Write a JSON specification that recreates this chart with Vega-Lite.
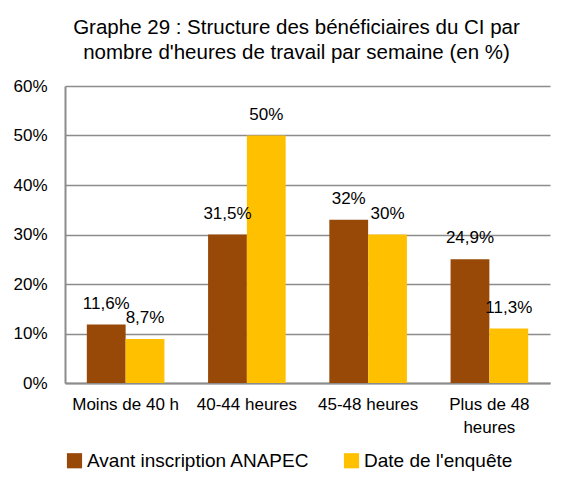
{
  "$schema": "https://vega.github.io/schema/vega-lite/v6.json",
  "width": 485,
  "height": 297,
  "autosize": {"type": "none"},
  "padding": {"left": 65, "top": 86, "right": 24, "bottom": 102},
  "background": "white",
  "config": {
    "font": "Liberation Sans",
    "view": {"stroke": null}
  },
  "title": {
    "text": ["Graphe 29 : Structure des bénéficiaires du CI par", "nombre d'heures de travail par semaine (en %)"],
    "font": "Liberation Sans",
    "fontSize": 20.5,
    "fontWeight": "normal",
    "color": "#000000",
    "anchor": "middle",
    "dx": -11,
    "lineHeight": 25,
    "offset": 14
  },
  "data": {
    "values": [
      {"cat": "Moins de 40 h", "serie": "Avant inscription ANAPEC", "value": 11.8, "label": "11,6%"},
      {"cat": "Moins de 40 h", "serie": "Date de l'enquête", "value": 8.9, "label": "8,7%"},
      {"cat": "40-44 heures", "serie": "Avant inscription ANAPEC", "value": 30, "label": "31,5%"},
      {"cat": "40-44 heures", "serie": "Date de l'enquête", "value": 50, "label": "50%"},
      {"cat": "45-48 heures", "serie": "Avant inscription ANAPEC", "value": 33, "label": "32%"},
      {"cat": "45-48 heures", "serie": "Date de l'enquête", "value": 30, "label": "30%"},
      {"cat": "Plus de 48 heures", "serie": "Avant inscription ANAPEC", "value": 25, "label": "24,9%"},
      {"cat": "Plus de 48 heures", "serie": "Date de l'enquête", "value": 11, "label": "11,3%"}
    ]
  },
  "encoding": {
    "x": {
      "field": "cat",
      "type": "nominal",
      "sort": null,
      "scale": {"paddingInner": 0.36, "paddingOuter": 0.18},
      "axis": {
        "title": null,
        "labelAngle": 0,
        "labelFontSize": 17,
        "labelColor": "#000000",
        "labelPadding": 13,
        "labelLineHeight": 23,
        "ticks": false,
        "domainColor": "#8c8c8c",
        "domainWidth": 2,
        "labelExpr": "datum.label == 'Plus de 48 heures' ? ['Plus de 48', 'heures'] : datum.label"
      }
    },
    "xOffset": {"field": "serie", "type": "nominal", "sort": null}
  },
  "layer": [
    {
      "mark": {"type": "bar"},
      "encoding": {
        "y": {
          "field": "value",
          "type": "quantitative",
          "scale": {"domain": [0, 60]},
          "axis": {
            "title": null,
            "values": [0, 10, 20, 30, 40, 50, 60],
            "labelExpr": "datum.value + '%'",
            "labelFontSize": 17,
            "labelColor": "#000000",
            "labelPadding": 18,
            "ticks": false,
            "domainColor": "#8c8c8c",
            "domainWidth": 2,
            "gridColor": "#8c8c8c",
            "gridWidth": 1.5
          }
        },
        "color": {
          "field": "serie",
          "type": "nominal",
          "sort": null,
          "scale": {"domain": ["Avant inscription ANAPEC", "Date de l'enquête"], "range": ["#984807", "#FFC000"]},
          "legend": {
            "title": null,
            "orient": "bottom",
            "direction": "horizontal",
            "symbolType": "square",
            "symbolSize": 230,
            "symbolStrokeWidth": 0,
            "labelFontSize": 19,
            "labelColor": "#000000",
            "labelLimit": 400,
            "columnPadding": 32,
            "labelOffset": 3,
            "offset": 16
          }
        }
      }
    },
    {
      "mark": {"type": "text", "baseline": "alphabetic", "dy": -16, "fontSize": 17, "color": "#000000"},
      "encoding": {
        "y": {"field": "value", "type": "quantitative"},
        "text": {"field": "label"}
      }
    }
  ]
}
